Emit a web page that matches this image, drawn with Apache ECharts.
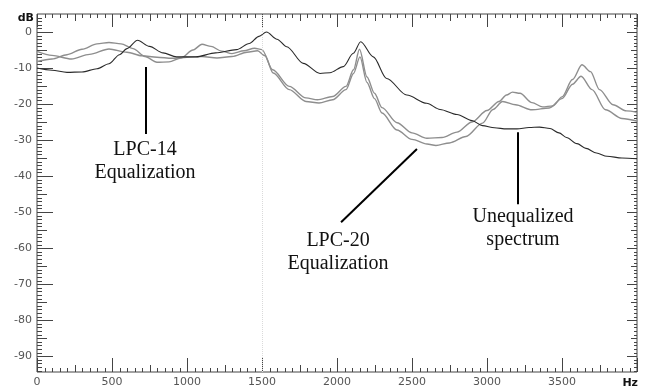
<!DOCTYPE html>
<html><head><meta charset="utf-8">
<script src="https://cdn.jsdelivr.net/npm/echarts@6/dist/echarts.min.js"></script>
<style>html,body{margin:0;padding:0;background:#fff}#c{width:648px;height:389px}</style>
</head><body><div id="c"></div>
<script>
// ---- data ----
const xTickLabels = [0, 500, 1000, 1500, 2000, 2500, 3000, 3500];
const yTickLabels = [-90, -80, -70, -60, -50, -40, -30, -20, -10, 0];
const xUnit = 'Hz';
const yUnit = 'dB';

const unequalizedHz = [0,100,200,300,400,480,550,600,670,750,840,930,1060,1190,1330,1415,1480,1530,1600,1665,1775,1887,1953,2042,2109,2158,2242,2331,2465,2598,2687,2800,2900,2970,3050,3130,3200,3280,3350,3420,3480,3530,3600,3660,3730,3800,3900,4000];
const unequalizedDb = [-10,-10.6,-11.2,-11.1,-10.2,-8.8,-6.3,-4.6,-2.3,-4.0,-5.8,-6.9,-6.9,-5.8,-4.9,-3.2,-1.2,0,-2.0,-4.1,-8.7,-11.5,-11.3,-9.6,-5.9,-2.7,-6.9,-12.9,-17.5,-19.8,-21.5,-22.9,-24.6,-26.0,-26.6,-26.9,-26.9,-26.5,-26.4,-26.8,-28.0,-29.3,-31.0,-32.3,-33.6,-34.5,-35.0,-35.2];

const lpc14Hz = [0,100,200,300,400,480,560,640,720,800,880,960,1040,1100,1160,1230,1300,1380,1450,1500,1571,1682,1793,1870,1971,2060,2110,2150,2200,2250,2300,2400,2500,2600,2700,2800,2900,3000,3080,3130,3170,3220,3300,3370,3440,3500,3570,3633,3690,3750,3840,3930,4000];
const lpc14Db = [-8.2,-7.5,-6.3,-4.8,-3.3,-2.9,-3.3,-4.6,-6.8,-8.4,-8.3,-7.2,-5.0,-3.4,-4.0,-5.3,-6.0,-5.2,-4.5,-4.9,-10.5,-15.1,-18.3,-18.8,-17.9,-15.1,-10.5,-4.8,-12.5,-17,-21,-25.2,-28,-29.5,-29.3,-27.8,-25,-21.8,-19.3,-17.5,-16.7,-17,-19.6,-20.8,-20.5,-18,-13.2,-9.1,-11,-16,-20.2,-21.9,-22.3];

const lpc20Hz = [0,100,230,350,480,600,700,800,900,1000,1100,1200,1300,1400,1470,1520,1575,1682,1793,1880,1971,2060,2110,2153,2200,2250,2300,2400,2500,2600,2660,2750,2860,2970,3040,3104,3190,3300,3415,3500,3570,3627,3700,3790,3900,4000];
const lpc20Db = [-5.4,-6.5,-7.5,-6.2,-4.7,-5.6,-6.6,-7.0,-7.3,-7.0,-6.8,-7.2,-6.8,-5.6,-5.2,-6.6,-11.4,-16,-19.3,-19.7,-18.8,-16,-11.5,-6.9,-14,-18.5,-22.5,-27.2,-29.8,-31.1,-31.5,-30.8,-29,-25.3,-21.5,-19.3,-20.2,-21.6,-21.1,-18.5,-14.5,-12.3,-16,-21.6,-24,-24.7];

// annotations (data coordinates)
const annotationTexts = ['LPC-14\nEqualization', 'LPC-20\nEqualization', 'Unequalized\nspectrum'];
const annotationTextAt = [[720, -35.8], [2007, -61.2], [3240, -54.4]];
const annotationLines = [
  [[727, -9.7], [727, -28.3]],
  [[2533, -32.5], [2027, -52.8]],
  [[3207, -27.8], [3207, -47.8]]
];
const guideLineHz = 1500;

// ---- helpers ----
const X_MIN = 0, X_MAX = 4000, Y_MIN = -94.4, Y_MAX = 5;
function zip(a, b) { return a.map((v, i) => [v, b[i]]); }
function range(from, to, step, skip) {
  const out = [];
  for (let v = from; v <= to + 1e-9; v += step) {
    const r = Math.round(v * 1000) / 1000;
    if (!skip || !skip(r)) out.push(r);
  }
  return out;
}
// tick values: kind 0 major, 1 medium, 2 minor (x); 3,4,5 same for y
const xMajor = range(0, 4000, 500);
const xMed = range(250, 3750, 500);
const xMinor = range(50, 3950, 50, v => v % 250 === 0);
const yMajor = range(-90, 0, 10);
const yMed = range(-85, -5, 10);
const yMinor = range(-94, 4, 1, v => v % 5 === 0);
const tickData = []
  .concat(xMajor.map(v => [v, Y_MIN, 0]))
  .concat(xMed.map(v => [v, Y_MIN, 1]))
  .concat(xMinor.map(v => [v, Y_MIN, 2]))
  .concat(yMajor.map(v => [X_MIN, v, 3]))
  .concat(yMed.map(v => [X_MIN, v, 4]))
  .concat(yMinor.map(v => [X_MIN, v, 5]));
// tick lengths in px: [bottom/left, top/right]
const TICK_LEN = [[14, 13], [7, 7], [4, 4], [16, 10], [10, 6], [5, 3]];
const tickColor = '#444';

function renderTick(params, api) {
  const kind = api.value(2);
  const p = api.coord([api.value(0), api.value(1)]);
  const lt = api.coord([X_MIN, Y_MAX]);
  const rb = api.coord([X_MAX, Y_MIN]);
  const len = TICK_LEN[kind];
  const st = { stroke: tickColor, lineWidth: 1 };
  if (kind < 3) {
    const x = Math.round(p[0]) + 0.5;
    return { type: 'group', children: [
      { type: 'line', shape: { x1: x, y1: rb[1], x2: x, y2: rb[1] - len[0] }, style: st },
      { type: 'line', shape: { x1: x, y1: lt[1], x2: x, y2: lt[1] + len[1] }, style: st }
    ] };
  }
  const y = Math.round(p[1]) + 0.5;
  return { type: 'group', children: [
    { type: 'line', shape: { x1: lt[0], y1: y, x2: lt[0] + len[0], y2: y }, style: st },
    { type: 'line', shape: { x1: rb[0], y1: y, x2: rb[0] - len[1], y2: y }, style: st }
  ] };
}

const chart = echarts.init(document.getElementById('c'), null, { renderer: 'canvas' });

const option = {
  animation: false,
  backgroundColor: '#fff',
  grid: { left: 37, right: 11, top: 14, bottom: 17, show: true, borderColor: '#444', borderWidth: 1, backgroundColor: 'transparent' },
  xAxis: {
    type: 'value', position: 'bottom', min: X_MIN, max: X_MAX,
    splitLine: { show: false }, axisLine: { show: false }, axisTick: { show: false },
    axisLabel: { show: true, customValues: xTickLabels, formatter: v => String(v), margin: 5, color: '#555', fontFamily: 'DejaVu Sans', fontSize: 11 }
  },
  yAxis: {
    type: 'value', position: 'left', min: Y_MIN, max: Y_MAX,
    splitLine: { show: false }, axisLine: { show: false }, axisTick: { show: false },
    axisLabel: { show: true, customValues: yTickLabels, formatter: v => String(v), margin: 5, color: '#555', fontFamily: 'DejaVu Sans', fontSize: 11 }
  },
  series: [
    {
      name: 'ticks', type: 'custom', data: tickData, renderItem: renderTick,
      encode: { x: 0, y: 1 }, clip: false, silent: true, z: 1
    },
    {
      name: 'LPC-14 Equalization', type: 'line', data: zip(lpc14Hz, lpc14Db),
      showSymbol: false, smooth: 0.3, smoothMonotone: 'x',
      lineStyle: { color: '#8e8e8e', width: 1.4 }, z: 3
    },
    {
      name: 'LPC-20 Equalization', type: 'line', data: zip(lpc20Hz, lpc20Db),
      showSymbol: false, smooth: 0.3, smoothMonotone: 'x',
      lineStyle: { color: '#8e8e8e', width: 1.4 }, z: 3
    },
    {
      name: 'Unequalized spectrum', type: 'line', data: zip(unequalizedHz, unequalizedDb),
      showSymbol: false, smooth: 0.3, smoothMonotone: 'x',
      lineStyle: { color: '#2a2a2a', width: 1.1 }, z: 4,
      markLine: {
        silent: true, symbol: ['none', 'none'], animation: false,
        label: { show: false },
        lineStyle: { color: '#000', width: 2, type: 'solid' },
        data: [
          { xAxis: guideLineHz, lineStyle: { color: '#dadada', width: 1, type: 'dotted' } }
        ].concat(annotationLines.map(l => [{ coord: l[0] }, { coord: l[1] }]))
      },
      markPoint: {
        silent: true, animation: false,
        symbol: 'circle', symbolSize: 0,
        label: {
          show: true, position: 'inside', formatter: p => p.name,
          fontFamily: 'Liberation Serif', fontSize: 20, lineHeight: 23, color: '#111', align: 'center'
        },
        data: annotationTexts.map((t, i) => ({ name: t, coord: annotationTextAt[i] }))
      }
    }
  ]
};
chart.setOption(option);

// axis unit labels
const topLeft = chart.convertToPixel({ xAxisIndex: 0, yAxisIndex: 0 }, [X_MIN, Y_MAX]);
const botRight = chart.convertToPixel({ xAxisIndex: 0, yAxisIndex: 0 }, [X_MAX, Y_MIN]);
chart.setOption({
  graphic: [
    { type: 'text', x: topLeft[0] - 3, y: topLeft[1] + 4,
      style: { text: yUnit, font: 'bold 11px "DejaVu Sans"', fill: '#111', align: 'right', verticalAlign: 'middle' } },
    { type: 'text', x: botRight[0] + 1, y: botRight[1] + 11,
      style: { text: xUnit, font: 'bold 11px "DejaVu Sans"', fill: '#111', align: 'right', verticalAlign: 'middle' } }
  ]
});
</script>
</body></html>
